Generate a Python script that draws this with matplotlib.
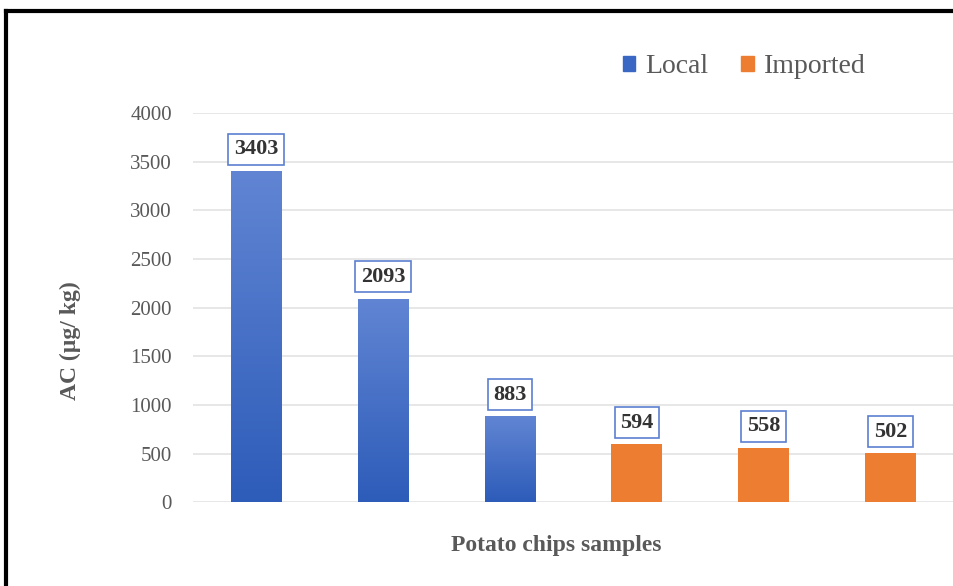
import matplotlib.pyplot as plt
import numpy as np
from matplotlib.colors import LinearSegmentedColormap
from matplotlib.lines import Line2D
from matplotlib.patches import Patch

samples = ["L1", "L2", "L3", "I1", "I2", "I3"]
values = [3403, 2093, 883, 594, 558, 502]
groups = ["Local", "Local", "Local", "Imported", "Imported", "Imported"]
yticks = [0, 500, 1000, 1500, 2000, 2500, 3000, 3500, 4000]

blue_top = "#6185d3"
blue_bottom = "#2d5cb9"
orange = "#ed7d31"
text_gray = "#595959"

plt.rcParams["font.family"] = ["Liberation Serif", "DejaVu Serif"]

fig = plt.figure(figsize=(9.54, 5.86), dpi=100)
ax = fig.add_axes([0.202, 0.143, 0.798, 0.664])

x = np.arange(len(samples))
colors = [blue_bottom if g == "Local" else orange for g in groups]
bars = ax.bar(x, values, width=0.4, color=colors, zorder=2)

# vertical gradient on the local bars
cmap = LinearSegmentedColormap.from_list("blue_grad", [blue_bottom, blue_top])
grad = np.linspace(0, 1, 256).reshape(-1, 1)
for bar, g in zip(bars, groups):
    if g != "Local":
        continue
    x0, w, h = bar.get_x(), bar.get_width(), bar.get_height()
    im = ax.imshow(grad, cmap=cmap, origin="lower", aspect="auto",
                   extent=[x0, x0 + w, 0, h], zorder=2.1)
    im.set_clip_path(bar)

for xi, v in zip(x, values):
    ax.annotate(f"{v}", xy=(xi, v), xytext=(0, 8.5), textcoords="offset points",
                ha="center", va="bottom", fontsize=16, fontweight="bold",
                color="#333333", zorder=4,
                bbox=dict(boxstyle="square,pad=0.25", fc="white",
                          ec="#5b7fcf", lw=1.2))

ax.set_xlim(-0.5, len(samples) - 0.5)
ax.set_ylim(0, 4000)
ax.set_yticks(yticks)
ax.set_yticklabels([str(t) for t in yticks], fontsize=15, color=text_gray)
ax.set_xticks([])
ax.tick_params(axis="y", length=0, pad=15)
ax.grid(axis="y", color="#e3e3e3", lw=1.2, zorder=0)
for s in ax.spines.values():
    s.set_visible(False)

ax.text(-0.16, 0.416, "AC (\u00b5g/ kg)", transform=ax.transAxes,
        rotation=90, ha="center", va="center", fontsize=17,
        fontweight="bold", color=text_gray)
ax.text(0.477, -0.11, "Potato chips samples", transform=ax.transAxes,
        ha="center", va="center", fontsize=17, fontweight="bold",
        color=text_gray)

handles = [Patch(color="#3a66c4"), Patch(color=orange)]
leg = fig.legend(handles, ["Local", "Imported"], loc="center",
                 bbox_to_anchor=(0.78, 0.886), ncol=2, frameon=False,
                 fontsize=20, handlelength=0.45, handleheight=0.45,
                 handletextpad=0.35, columnspacing=1.2)
for t in leg.get_texts():
    t.set_color(text_gray)

# black frame on the top and left edges of the figure
fig.add_artist(Line2D([0.006, 0.006], [0, 0.981], color="black", lw=3,
                      transform=fig.transFigure))
fig.add_artist(Line2D([0.006, 1.0], [0.981, 0.981], color="black", lw=3,
                      transform=fig.transFigure))

fig.savefig("out.png", dpi=100)
